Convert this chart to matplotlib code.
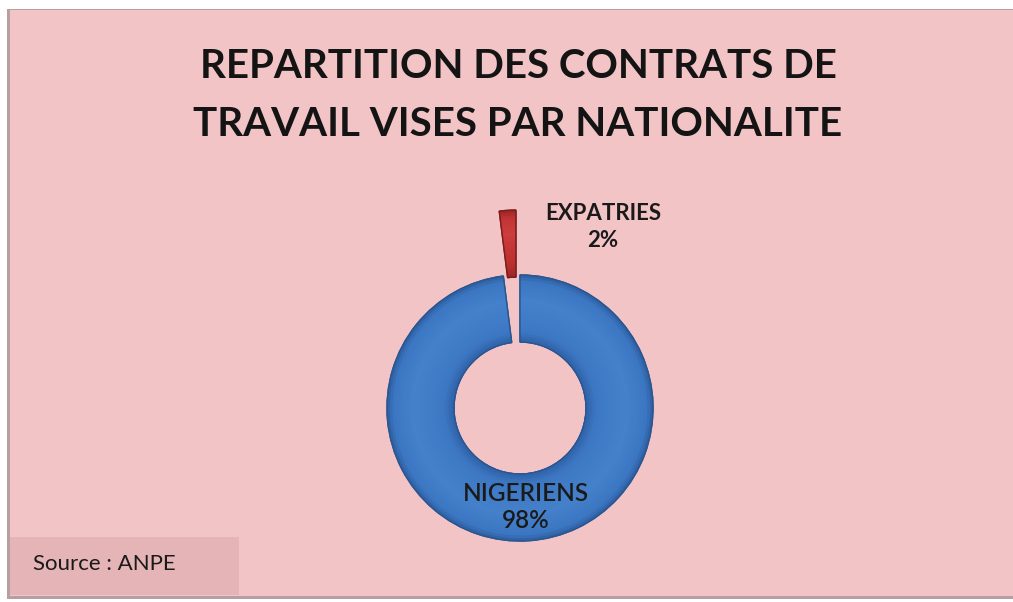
import matplotlib
matplotlib.use("Agg")
import matplotlib.pyplot as plt
from matplotlib.patches import Rectangle, Wedge
from matplotlib.colors import LinearSegmentedColormap

# Data
categories = ["EXPATRIES", "NIGERIENS"]
shares = [2, 98]
label_text = ["EXPATRIES\n2%", "NIGERIENS\n98%"]
title = "REPARTITION DES CONTRATS DE\nTRAVAIL VISES PAR NATIONALITE"
source = "Source : ANPE"

W, H = 1013, 602
fig = plt.figure(figsize=(W / 100, H / 100), dpi=100)
fig.patch.set_facecolor("white")
ax = fig.add_axes([0, 0, 1, 1])

# panel background
ax.add_patch(Rectangle((7, 3), W, 590, facecolor="#b79ea0", edgecolor="none", zorder=0))
ax.add_patch(Rectangle((10, 6), W, 586, facecolor="#f3c4c6", edgecolor="none", zorder=0))
ax.add_patch(Rectangle((10, 7), 229, 58, facecolor="#e4b4b6", edgecolor="none", zorder=1))

R, RW = 133, 67
colors = ["#c0302f", "#3f7bc6"]
edges = ["#7e1c1c", "#2a5590"]
wedges, _ = ax.pie(shares, startangle=90, counterclock=True, colors=colors,
                   explode=[65, 0], center=(520, 194), radius=R,
                   wedgeprops=dict(width=RW, linewidth=1.0), frame=True)

# smooth bevel shading across the ring (outer edge -> inner edge)
cmaps = [
    LinearSegmentedColormap.from_list("r", [(0, "#9a2626"), (0.12, "#c23333"), (0.35, "#cc3d3d"),
                                           (0.8, "#bb2f2f"), (1, "#9a2626")]),
    LinearSegmentedColormap.from_list("b", [(0, "#2d5e9f"), (0.1, "#3b76c2"), (0.4, "#4581cb"),
                                           (0.85, "#3c77c3"), (1, "#2f62a6")]),
]
NB = 24
for i, w in enumerate(wedges):
    w.set_edgecolor(edges[i])
    w.set_zorder(3)
    cx, cy = w.center
    for k in range(NB):
        r_out = R - RW * k / NB
        ax.add_patch(Wedge((cx, cy), r_out, w.theta1, w.theta2, width=RW / NB + 0.6,
                           facecolor=cmaps[i]((k + 0.5) / NB), edgecolor="none",
                           zorder=3.5))
    ax.add_patch(Wedge((cx, cy), R, w.theta1, w.theta2, width=RW,
                       facecolor="none", edgecolor=edges[i], linewidth=1.0, zorder=4))

ax.set_xlim(0, W)
ax.set_ylim(0, H)
ax.set_aspect("equal")
ax.axis("off")

ff = ["Lato", "DejaVu Sans"]
ax.text(518, H - 95, title, ha="center", va="center", fontsize=29, fontweight="bold",
        family=ff, color="#141414", linespacing=1.7, zorder=5)
ax.text(603, H - 227, label_text[0], ha="center", va="center", fontsize=16,
        fontweight="bold", family=ff, color="#1a1a1a", linespacing=1.4, zorder=5)
ax.text(526, H - 507, label_text[1], ha="center", va="center", fontsize=17.5,
        fontweight="semibold", family=ff, color="#1a1a1a", linespacing=1.25, zorder=5)
ax.text(33, H - 564, source, ha="left", va="center", fontsize=16, family=ff,
        color="#1a1a1a", zorder=5)

fig.savefig("out.png", dpi=100, facecolor="white")
